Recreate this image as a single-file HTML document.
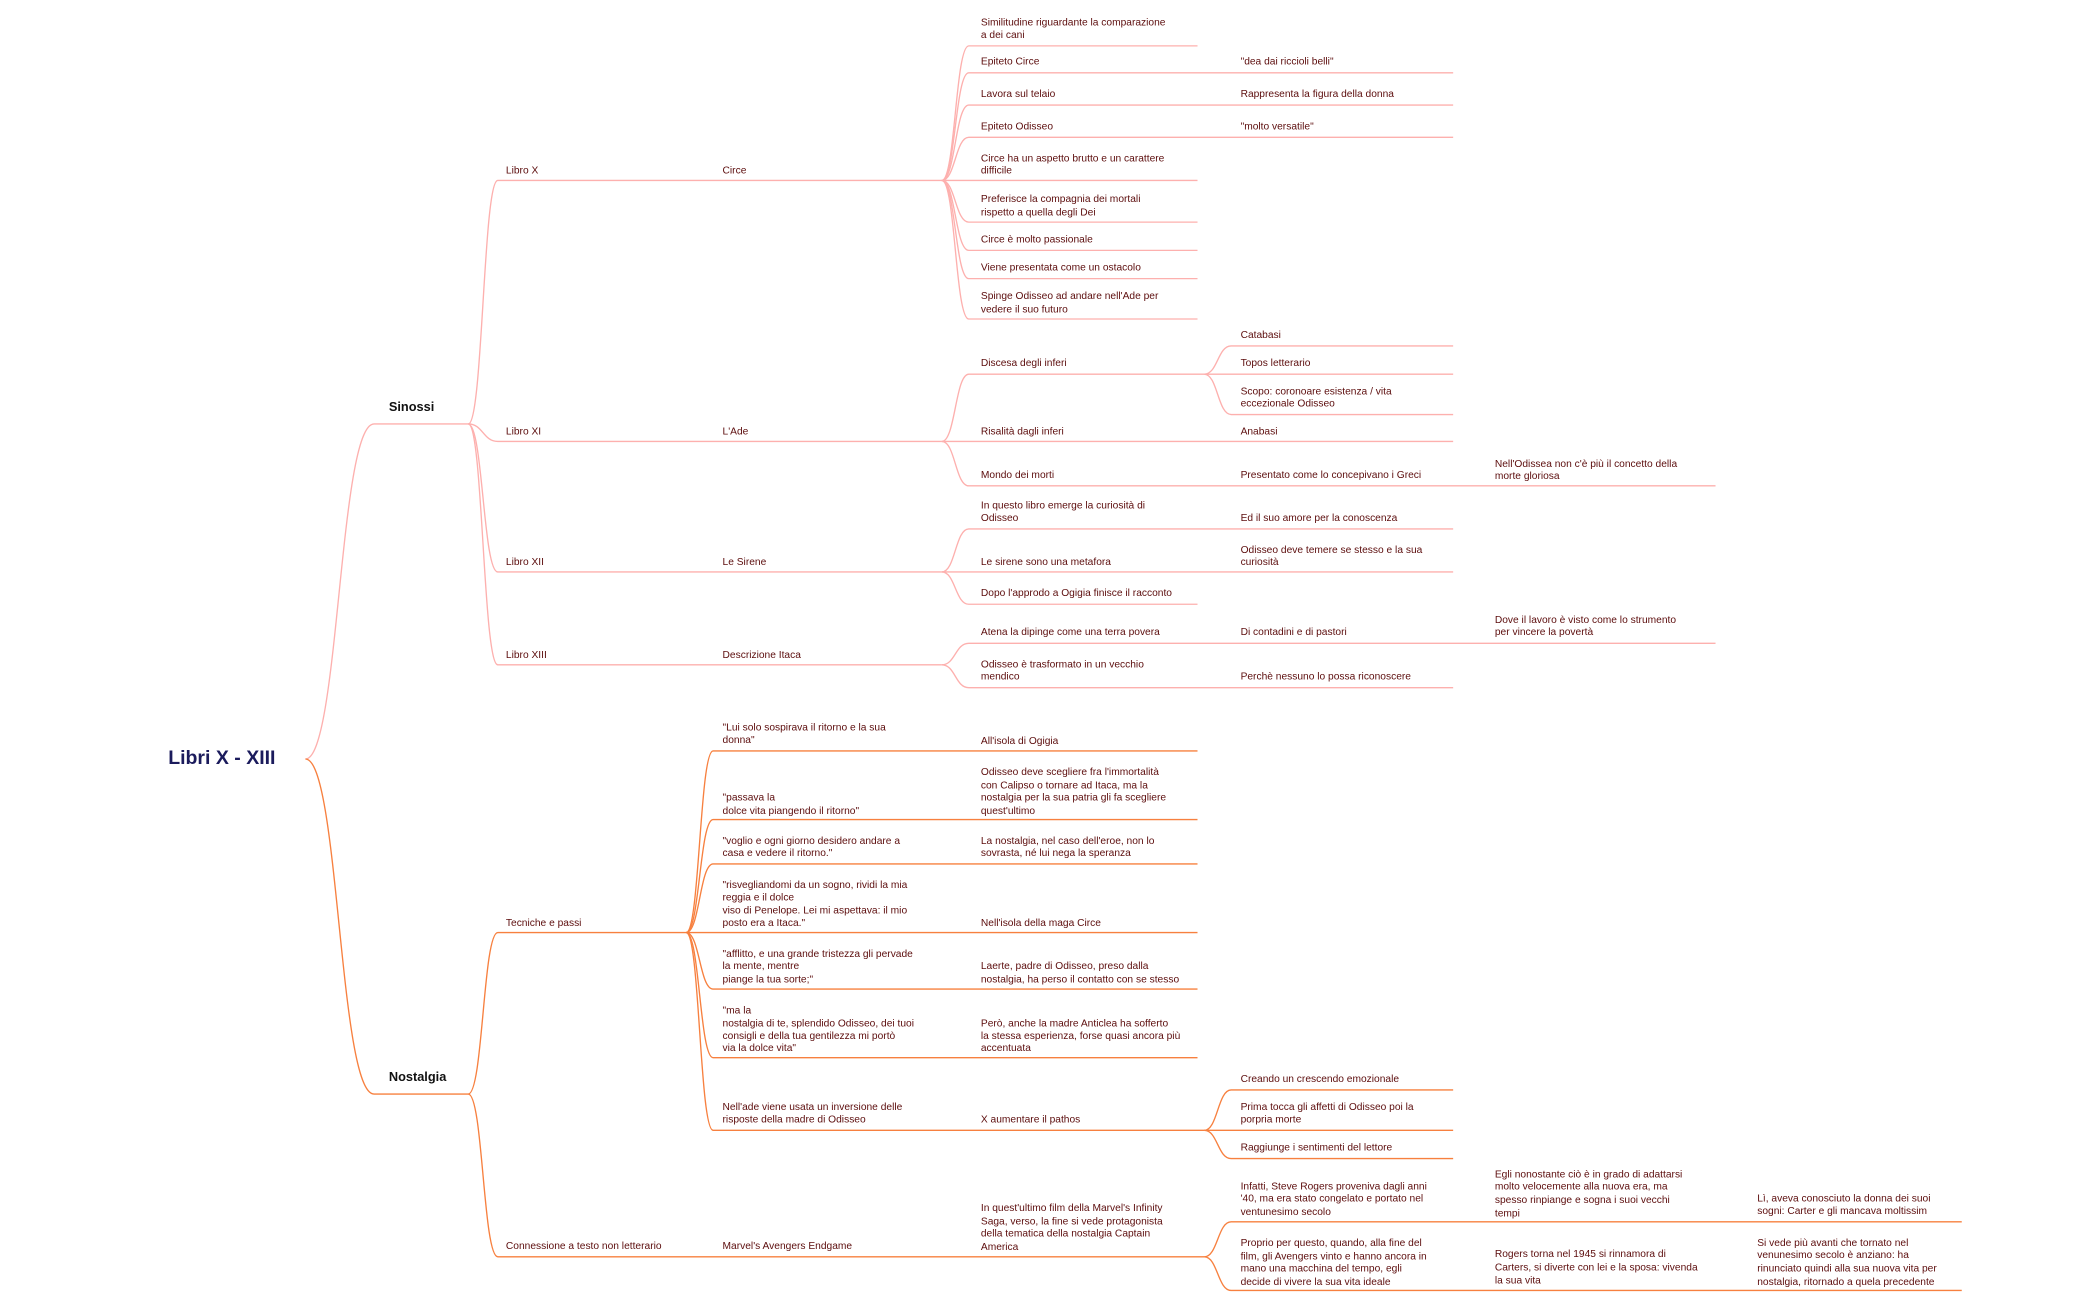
<!DOCTYPE html>
<html><head><meta charset="utf-8"><style>
html,body{margin:0;padding:0;background:#fff;}
svg{display:block}
text{font-family:"Liberation Sans",sans-serif;font-size:7.6px;fill:#5c0d0d;dominant-baseline:middle}
.p{fill:none;stroke:#fdb0ae;stroke-width:1}
.o{fill:none;stroke:#f7803f;stroke-width:1}
</style></head><body>
<svg width="2099" height="1300" viewBox="0 0 1560 966" xmlns="http://www.w3.org/2000/svg">
<!-- Root -->
<text x="125" y="564" style="font-size:14.5px;font-weight:bold;fill:#1b1b5c">Libri X - XIII</text>
<path class="p" d="M227,564 C252,564 252,315 278,315 H348"/>
<path class="o" d="M227,564 C252,564 252,813 278,813 H348"/>
<text x="289" y="303" style="font-size:9.5px;font-weight:bold;fill:#111">Sinossi</text>
<text x="289" y="801" style="font-size:9.5px;font-weight:bold;fill:#111">Nostalgia</text>

<!-- Sinossi branches -->
<path class="p" d="M348,315 C359,315 359,134 370,134 H700"/>
<path class="p" d="M348,315 C359,315 359,328 370,328 H700"/>
<path class="p" d="M348,315 C359,315 359,425 370,425 H700"/>
<path class="p" d="M348,315 C359,315 359,494 370,494 H700"/>
<text x="376" y="127">Libro X</text><text x="537" y="127">Circe</text>
<text x="376" y="321">Libro XI</text><text x="537" y="321">L'Ade</text>
<text x="376" y="418">Libro XII</text><text x="537" y="418">Le Sirene</text>
<text x="376" y="487">Libro XIII</text><text x="537" y="487">Descrizione Itaca</text>

<!-- Circe children -->
<path class="p" d="M700,134 C710,134 710,34 720,34 H890"/>
<path class="p" d="M700,134 C710,134 710,54 720,54 H1080"/>
<path class="p" d="M700,134 C710,134 710,78 720,78 H1080"/>
<path class="p" d="M700,134 C710,134 710,102 720,102 H1080"/>
<path class="p" d="M700,134 H890"/>
<path class="p" d="M700,134 C710,134 710,165 720,165 H890"/>
<path class="p" d="M700,134 C710,134 710,186 720,186 H890"/>
<path class="p" d="M700,134 C710,134 710,207 720,207 H890"/>
<path class="p" d="M700,134 C710,134 710,237 720,237 H890"/>
<text x="729" y="17">Similitudine riguardante la comparazione</text><text x="729" y="26">a dei cani</text>
<text x="729" y="46">Epiteto Circe</text><text x="922" y="46">"dea dai riccioli belli"</text>
<text x="729" y="70">Lavora sul telaio</text><text x="922" y="70">Rappresenta la figura della donna</text>
<text x="729" y="94">Epiteto Odisseo</text><text x="922" y="94">"molto versatile"</text>
<text x="729" y="118">Circe ha un aspetto brutto e un carattere</text><text x="729" y="127">difficile</text>
<text x="729" y="148">Preferisce la compagnia dei mortali</text><text x="729" y="158">rispetto a quella degli Dei</text>
<text x="729" y="178">Circe è molto passionale</text>
<text x="729" y="199">Viene presentata come un ostacolo</text>
<text x="729" y="220">Spinge Odisseo ad andare nell'Ade per</text><text x="729" y="230">vedere il suo futuro</text>

<!-- L'Ade children -->
<path class="p" d="M700,328 C710,328 710,278 720,278 H895"/>
<path class="p" d="M895,278 C905,278 905,257 915,257 H1080"/>
<path class="p" d="M895,278 H1080"/>
<path class="p" d="M895,278 C905,278 905,308 915,308 H1080"/>
<path class="p" d="M700,328 H1080"/>
<path class="p" d="M700,328 C710,328 710,361 720,361 H1275"/>
<text x="729" y="270">Discesa degli inferi</text>
<text x="922" y="249">Catabasi</text>
<text x="922" y="270">Topos letterario</text>
<text x="922" y="291">Scopo: coronoare esistenza / vita</text><text x="922" y="300">eccezionale Odisseo</text>
<text x="729" y="321">Risalità dagli inferi</text><text x="922" y="321">Anabasi</text>
<text x="729" y="353">Mondo dei morti</text><text x="922" y="353">Presentato come lo concepivano i Greci</text>
<text x="1111" y="345">Nell'Odissea non c'è più il concetto della</text><text x="1111" y="354">morte gloriosa</text>

<!-- Le Sirene children -->
<path class="p" d="M700,425 C710,425 710,393 720,393 H1080"/>
<path class="p" d="M700,425 H1080"/>
<path class="p" d="M700,425 C710,425 710,449 720,449 H890"/>
<text x="729" y="376">In questo libro emerge la curiosità di</text><text x="729" y="385">Odisseo</text>
<text x="922" y="385">Ed il suo amore per la conoscenza</text>
<text x="729" y="418">Le sirene sono una metafora</text>
<text x="922" y="409">Odisseo deve temere se stesso e la sua</text><text x="922" y="418">curiosità</text>
<text x="729" y="441">Dopo l'approdo a Ogigia finisce il racconto</text>

<!-- Itaca children -->
<path class="p" d="M700,494 C710,494 710,478 720,478 H1275"/>
<path class="p" d="M700,494 C710,494 710,511 720,511 H1080"/>
<text x="729" y="470">Atena la dipinge come una terra povera</text><text x="922" y="470">Di contadini e di pastori</text>
<text x="1111" y="461">Dove il lavoro è visto come lo strumento</text><text x="1111" y="470">per vincere la povertà</text>
<text x="729" y="494">Odisseo è trasformato in un vecchio</text><text x="729" y="503">mendico</text>
<text x="922" y="503">Perchè nessuno lo possa riconoscere</text>

<!-- Nostalgia branches -->
<path class="o" d="M348,813 C359,813 359,693 370,693 H510"/>
<path class="o" d="M348,813 C359,813 359,934 370,934 H895"/>
<text x="376" y="686">Tecniche e passi</text>
<text x="376" y="926">Connessione a testo non letterario</text>
<text x="537" y="926">Marvel's Avengers Endgame</text>

<path class="o" d="M510,693 C520,693 520,558 530,558 H890"/>
<path class="o" d="M510,693 C520,693 520,609 530,609 H890"/>
<path class="o" d="M510,693 C520,693 520,642 530,642 H890"/>
<path class="o" d="M510,693 H890"/>
<path class="o" d="M510,693 C520,693 520,735 530,735 H890"/>
<path class="o" d="M510,693 C520,693 520,786 530,786 H890"/>
<path class="o" d="M510,693 C520,693 520,840 530,840 H895"/>
<text x="537" y="541">"Lui solo sospirava il ritorno e la sua</text><text x="537" y="550">donna"</text>
<text x="729" y="551">All'isola di Ogigia</text>
<text x="537" y="593">"passava la</text><text x="537" y="603">dolce vita piangendo il ritorno"</text>
<text x="729" y="574">Odisseo deve scegliere fra l'immortalità</text><text x="729" y="584">con Calipso o tornare ad Itaca, ma la</text><text x="729" y="593">nostalgia per la sua patria gli fa scegliere</text><text x="729" y="603">quest'ultimo</text>
<text x="537" y="625">"voglio e ogni giorno desidero andare a</text><text x="537" y="634">casa e vedere il ritorno."</text>
<text x="729" y="625">La nostalgia, nel caso dell'eroe, non lo</text><text x="729" y="634">sovrasta, né lui nega la speranza</text>
<text x="537" y="658">"risvegliandomi da un sogno, rividi la mia</text><text x="537" y="667">reggia e il dolce</text><text x="537" y="677">viso di Penelope. Lei mi aspettava: il mio</text><text x="537" y="686">posto era a Itaca."</text>
<text x="729" y="686">Nell'isola della maga Circe</text>
<text x="537" y="709">"afflitto, e una grande tristezza gli pervade</text><text x="537" y="718">la mente, mentre</text><text x="537" y="728">piange la tua sorte;"</text>
<text x="729" y="718">Laerte, padre di Odisseo, preso dalla</text><text x="729" y="728">nostalgia, ha perso il contatto con se stesso</text>
<text x="537" y="751">"ma la</text><text x="537" y="761">nostalgia di te, splendido Odisseo, dei tuoi</text><text x="537" y="770">consigli e della tua gentilezza mi portò</text><text x="537" y="779">via la dolce vita"</text>
<text x="729" y="761">Però, anche la madre Anticlea ha sofferto</text><text x="729" y="770">la stessa esperienza, forse quasi ancora più</text><text x="729" y="779">accentuata</text>
<text x="537" y="823">Nell'ade viene usata un inversione delle</text><text x="537" y="832">risposte della madre di Odisseo</text>
<text x="729" y="832">X aumentare il pathos</text>

<path class="o" d="M895,840 C905,840 905,810 915,810 H1080"/>
<path class="o" d="M895,840 H1080"/>
<path class="o" d="M895,840 C905,840 905,861 915,861 H1080"/>
<text x="922" y="802">Creando un crescendo emozionale</text>
<text x="922" y="823">Prima tocca gli affetti di Odisseo poi la</text><text x="922" y="832">porpria morte</text>
<text x="922" y="853">Raggiunge i sentimenti del lettore</text>

<text x="729" y="898">In quest'ultimo film della Marvel's Infinity</text><text x="729" y="908">Saga, verso, la fine si vede protagonista</text><text x="729" y="917">della tematica della nostalgia Captain</text><text x="729" y="927">America</text>
<path class="o" d="M895,934 C905,934 905,908 915,908 H1458"/>
<path class="o" d="M895,934 C905,934 905,959 915,959 H1458"/>
<text x="922" y="882">Infatti, Steve Rogers proveniva dagli anni</text><text x="922" y="891">'40, ma era stato congelato e portato nel</text><text x="922" y="901">ventunesimo secolo</text>
<text x="1111" y="873">Egli nonostante ciò è in grado di adattarsi</text><text x="1111" y="882">molto velocemente alla nuova era, ma</text><text x="1111" y="892">spesso rinpiange e sogna i suoi vecchi</text><text x="1111" y="902">tempi</text>
<text x="1306" y="891">Lì, aveva conosciuto la donna dei suoi</text><text x="1306" y="900">sogni: Carter e gli mancava moltissim</text>
<text x="922" y="924">Proprio per questo, quando, alla fine del</text><text x="922" y="934">film, gli Avengers vinto e hanno ancora in</text><text x="922" y="943">mano una macchina del tempo, egli</text><text x="922" y="953">decide di vivere la sua vita ideale</text>
<text x="1111" y="932">Rogers torna nel 1945 si rinnamora di</text><text x="1111" y="942">Carters, si diverte con lei e la sposa: vivenda</text><text x="1111" y="952">la sua vita</text>
<text x="1306" y="924">Si vede più avanti che tornato nel</text><text x="1306" y="933">venunesimo secolo è anziano: ha</text><text x="1306" y="943">rinunciato quindi alla sua nuova vita per</text><text x="1306" y="953">nostalgia, ritornado a quela precedente</text>
</svg>
</body></html>
